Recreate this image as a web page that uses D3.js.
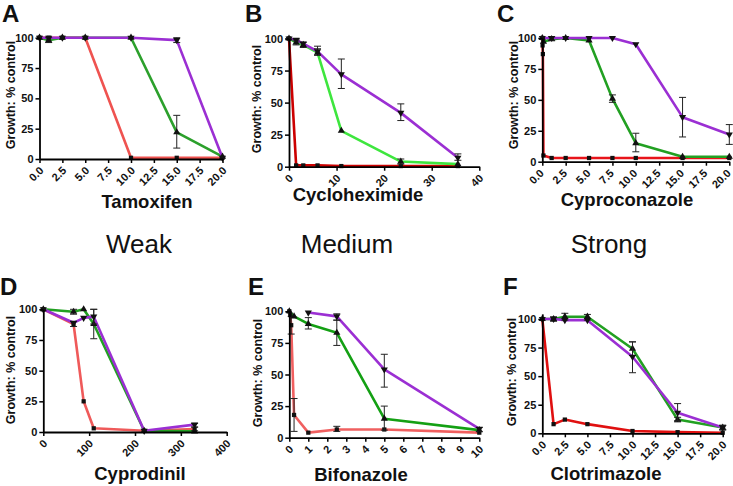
<!DOCTYPE html>
<html><head><meta charset="utf-8">
<script src="https://cdn.jsdelivr.net/npm/d3@7"></script>
<style>
body{margin:0;background:#fff}
svg{display:block}
text{font-family:"Liberation Sans",Arial,Helvetica,sans-serif}
</style>
</head><body>
<svg id="chart" width="733" height="486"></svg>
<script>
// ---------------- DATA ----------------
// A: Tamoxifen
const tamoxifenDose = [0, 1, 2.5, 5, 10, 15, 20];
const tamoxifenRed = [100, 100, 100, 100, 1, 1, 1];
const tamoxifenGreen = [100, 98, 100, 100, 100, 22, 2];
const tamoxifenPurple = [100, 100, 100, 100, 100, 98, 1];
const tamoxifenGreenErr = [[1, 96, 100], [15, 9, 36]];
const tamoxifenPurpleErr = [[15, 96, 100]];

// B: Cycloheximide
const cycloDose = [0, 1.5, 3, 6, 11, 23.5, 35.5];
const cycloRed = [100, 1, 1, 1, 0.5, 0.5, 0.5];
const cycloGreen = [100, 97, 95, 89, 28, 4, 2];
const cycloPurple = [100, 99, 96, 90, 72, 42, 7];
const cycloGreenErr = [[1.5, 95, 99], [3, 93, 97], [6, 87, 92], [23.5, 2, 6]];
const cycloPurpleErr = [[1.5, 98, 100], [6, 87, 94], [11, 61, 84], [23.5, 36, 49], [35.5, 5, 10]];

// C: Cyproconazole
const cyproRedDose = [0, 0.03, 0.06, 0.12, 1, 2.5, 5, 7.5, 10, 15, 20];
const cyproRed = [100, 94, 87, 5, 3, 3, 3, 3, 3, 3, 3];
const cyproGreenDose = [0, 0.12, 1, 2.5, 5, 7.5, 10, 15, 20];
const cyproGreen = [100, 97, 99, 100, 98, 51, 15, 4, 4];
const cyproPurpleDose = [0, 1, 2.5, 5, 7.5, 10, 15, 20];
const cyproPurple = [100, 100, 100, 100, 100, 95, 36, 22];
const cyproGreenErr = [[7.5, 48, 54], [10, 8, 23]];
const cyproPurpleErr = [[1, 98, 101], [15, 20, 52], [20, 14, 30]];

// D: Cyprodinil
const cyprodinilDose = [0, 66, 88, 110, 220, 330];
const cyprodinilRed = [100, 88, 25, 3, 1, 2.5];
const cyprodinilGreen = [100, 98, 100, 88, 1, 0.5];
const cyprodinilPurple = [100, 89, 93, 94, 1, 6];
const cyprodinilRedErr = [[66, 86, 90], [330, 1, 4]];
const cyprodinilGreenErr = [[66, 96, 100], [110, 76, 100]];
const cyprodinilPurpleErr = [[110, 88, 100], [330, 4, 7]];

// E: Bifonazole
const bifoRedDose = [0, 0.05, 0.1, 0.25, 1, 2.5, 5, 10];
const bifoRed = [100, 97, 89, 18, 4, 6.5, 6.5, 4];
const bifoGreenDose = [0, 0.25, 1, 2.5, 5, 10];
const bifoGreen = [100, 96, 90, 83, 15, 6];
const bifoPurpleDose = [1, 2.5, 5, 10];
const bifoPurple = [99, 96, 54, 7];
const bifoRedErr = [[0.1, 82, 96], [0.25, 5, 31], [2.5, 5, 9]];
const bifoGreenErr = [[1, 86, 95], [2.5, 73, 93], [5, 6, 25]];
const bifoPurpleErr = [[2.5, 93, 98], [5, 40, 66], [10, 5, 8]];

// F: Clotrimazole
const clotDose = [0, 1.25, 2.5, 5, 10, 15, 20];
const clotRed = [100, 8, 12, 8, 2, 1, 0.5];
const clotGreen = [100, 100, 102, 102, 74, 12, 5];
const clotPurple = [100, 100, 99, 99, 67, 18, 5];
const clotGreenErr = [[1.25, 98, 102], [2.5, 99, 105], [5, 99, 104], [10, 68, 80], [15, 10, 14], [20, 3, 7]];
const clotPurpleErr = [[10, 53, 80], [15, 11, 26], [20, 3, 7]];

// Tick values
const yTicks = [0, 25, 50, 75, 100];
const ticksTwenty = [0, 2.5, 5, 7.5, 10, 12.5, 15, 17.5, 20];
const ticksForty = [0, 10, 20, 30, 40];
const ticksFourHundred = [0, 100, 200, 300, 400];
const ticksTen = [0, 1, 2, 3, 4, 5, 6, 7, 8, 9, 10];

const groupTitles = ["Weak", "Medium", "Strong"];
const panelLetters = ["A", "B", "C", "D", "E", "F"];
const compounds = ["Tamoxifen", "Cycloheximide", "Cyproconazole", "Cyprodinil", "Bifonazole", "Clotrimazole"];
const yAxisTitle = "Growth: % control";

// ---------------- LAYOUT ----------------
const PURPLE = "#9b2fd3";
const panels = [
  {xr:[39.5,222.5], yr:[159,37.7], xd:[0,20], ymax:100, ticks:ticksTwenty, fmt:d3.format(".1f"),
   letter:[2,22], title:[147,208], ylab:[10,95], tx:1.5,
   colors:{red:"#ef5350", green:"#2ca02c"},
   series:[
     {c:"red", x:tamoxifenDose, y:tamoxifenRed, err:[]},
     {c:"green", x:tamoxifenDose, y:tamoxifenGreen, err:tamoxifenGreenErr},
     {c:"purple", x:tamoxifenDose, y:tamoxifenPurple, err:tamoxifenPurpleErr}]},
  {xr:[289,479.3], yr:[166.7,38.5], xd:[0,40], ymax:100, ticks:ticksForty, fmt:d3.format("d"),
   letter:[245,22], title:[358,201], ylab:[256,99], tx:1.5,
   colors:{red:"#cc0000", green:"#3ee63e"},
   series:[
     {c:"red", x:cycloDose, y:cycloRed, err:[]},
     {c:"green", x:cycloDose, y:cycloGreen, err:cycloGreenErr},
     {c:"purple", x:cycloDose, y:cycloPurple, err:cycloPurpleErr}]},
  {xr:[542.3,729.3], yr:[161.7,38], xd:[0,20], ymax:100, ticks:ticksTwenty, fmt:d3.format(".1f"),
   letter:[497,22], title:[627,206], ylab:[513,95], tx:-1,
   colors:{red:"#e8141a", green:"#22a022"},
   series:[
     {c:"red", x:cyproRedDose, y:cyproRed, err:[]},
     {c:"green", x:cyproGreenDose, y:cyproGreen, err:cyproGreenErr},
     {c:"purple", x:cyproPurpleDose, y:cyproPurple, err:cyproPurpleErr}]},
  {xr:[43.3,226.7], yr:[432,309.3], xd:[0,400], ymax:100, ticks:ticksFourHundred, fmt:d3.format("d"),
   letter:[0,295], title:[140,480], ylab:[10,370], tx:1.5,
   colors:{red:"#ef5a5a", green:"#22a022"},
   series:[
     {c:"red", x:cyprodinilDose, y:cyprodinilRed, err:cyprodinilRedErr},
     {c:"green", x:cyprodinilDose, y:cyprodinilGreen, err:cyprodinilGreenErr},
     {c:"purple", x:cyprodinilDose, y:cyprodinilPurple, err:cyprodinilPurpleErr}]},
  {xr:[289.3,479.3], yr:[437.7,311.3], xd:[0,10], ymax:101, ticks:ticksTen, fmt:d3.format("d"),
   letter:[248,295], title:[361,481], ylab:[257,373], tx:1.5,
   colors:{red:"#f06060", green:"#14a014"},
   series:[
     {c:"red", x:bifoRedDose, y:bifoRed, err:bifoRedErr},
     {c:"green", x:bifoGreenDose, y:bifoGreen, err:bifoGreenErr},
     {c:"purple", x:bifoPurpleDose, y:bifoPurple, err:bifoPurpleErr}]},
  {xr:[542.3,722.7], yr:[433.3,319], xd:[0,20], ymax:104.5, ticks:ticksTwenty, fmt:d3.format(".1f"),
   letter:[503,295], title:[606,480], ylab:[511,372], tx:1.5,
   colors:{red:"#e01010", green:"#22a022"},
   series:[
     {c:"red", x:clotDose, y:clotRed, err:[]},
     {c:"green", x:clotDose, y:clotGreen, err:clotGreenErr},
     {c:"purple", x:clotDose, y:clotPurple, err:clotPurpleErr}]}
];

const svg = d3.select("#chart");

// Group titles
const groupX = [139, 347, 609];
groupTitles.forEach((t, i) => {
  svg.append("text").attr("x", groupX[i]).attr("y", 253)
    .attr("text-anchor", "middle").attr("font-size", 26).attr("fill", "#111").text(t);
});

const symSquare = d3.symbol().type(d3.symbolSquare).size(18);
const symTri = d3.symbol().type(d3.symbolTriangle).size(22);

panels.forEach((p, i) => {
  const g = svg.append("g");
  const x = d3.scaleLinear().domain(p.xd).range(p.xr);
  const y = d3.scaleLinear().domain([0, 100]).range(p.yr);
  const yAx = d3.scaleLinear().domain([0, p.ymax]).range([p.yr[0], y(p.ymax)]);

  // series
  p.series.forEach(s => {
    const col = s.c === "purple" ? PURPLE : p.colors[s.c];
    const pts = s.x.map((d, k) => [d, s.y[k]]);
    g.append("path").datum(pts)
      .attr("d", d3.line().x(d => x(d[0])).y(d => y(d[1])))
      .attr("fill", "none").attr("stroke", col).attr("stroke-width", 2.6)
      .attr("stroke-linejoin", "round");
  });
  // markers + error bars
  p.series.forEach(s => {
    s.err.forEach(e => {
      const ex = x(e[0]);
      const eg = g.append("g").attr("stroke", "#222").attr("stroke-width", 1);
      eg.append("line").attr("x1", ex).attr("x2", ex).attr("y1", y(e[1])).attr("y2", y(e[2]));
      eg.append("line").attr("x1", ex - 3.5).attr("x2", ex + 3.5).attr("y1", y(e[1])).attr("y2", y(e[1]));
      eg.append("line").attr("x1", ex - 3.5).attr("x2", ex + 3.5).attr("y1", y(e[2])).attr("y2", y(e[2]));
    });
    s.x.forEach((d, k) => {
      const tx = x(d), ty = y(s.y[k]);
      let tr = `translate(${tx},${ty})`;
      let sym = symSquare;
      if (s.c === "green") sym = symTri;
      if (s.c === "purple") { sym = symTri; tr += " rotate(180)"; }
      g.append("path").attr("d", sym()).attr("transform", tr).attr("fill", "#111");
    });
  });

  // axes
  const ya = g.append("g").attr("transform", `translate(${p.xr[0]},0)`)
    .call(d3.axisLeft(yAx).tickValues(yTicks).tickSize(4).tickSizeOuter(0).tickPadding(2));
  const xa = g.append("g").attr("transform", `translate(0,${p.yr[0]})`)
    .call(d3.axisBottom(x).tickValues(p.ticks).tickFormat(p.fmt).tickSize(4).tickSizeOuter(0));
  [ya, xa].forEach(a => {
    a.select(".domain").attr("stroke", "#000").attr("stroke-width", 1.8);
    a.selectAll(".tick line").attr("stroke", "#000").attr("stroke-width", 1.5);
    a.selectAll("text").attr("font-size", 11).attr("font-weight", "bold").attr("fill", "#111")
      .style("font-family", '"Liberation Sans",Arial,sans-serif');
  });
  xa.selectAll(".tick text")
    .attr("x", 0).attr("y", 0).attr("dy", "0.35em")
    .attr("transform", `translate(${p.tx},9.5) rotate(-45)`)
    .attr("text-anchor", "end");

  // texts
  svg.append("text").attr("x", p.letter[0]).attr("y", p.letter[1])
    .attr("font-size", 24).attr("font-weight", "bold").attr("fill", "#111").text(panelLetters[i]);
  svg.append("text").attr("x", p.title[0]).attr("y", p.title[1])
    .attr("text-anchor", "middle").attr("font-size", 18.5).attr("font-weight", "bold").attr("fill", "#111")
    .text(compounds[i]);
  svg.append("text").attr("transform", `translate(${p.ylab[0] + 4.5},${p.ylab[1]}) rotate(-90)`)
    .attr("text-anchor", "middle").attr("font-size", 12.5).attr("font-weight", "bold").attr("fill", "#111")
    .text(yAxisTitle);
});
</script>
</body></html>
